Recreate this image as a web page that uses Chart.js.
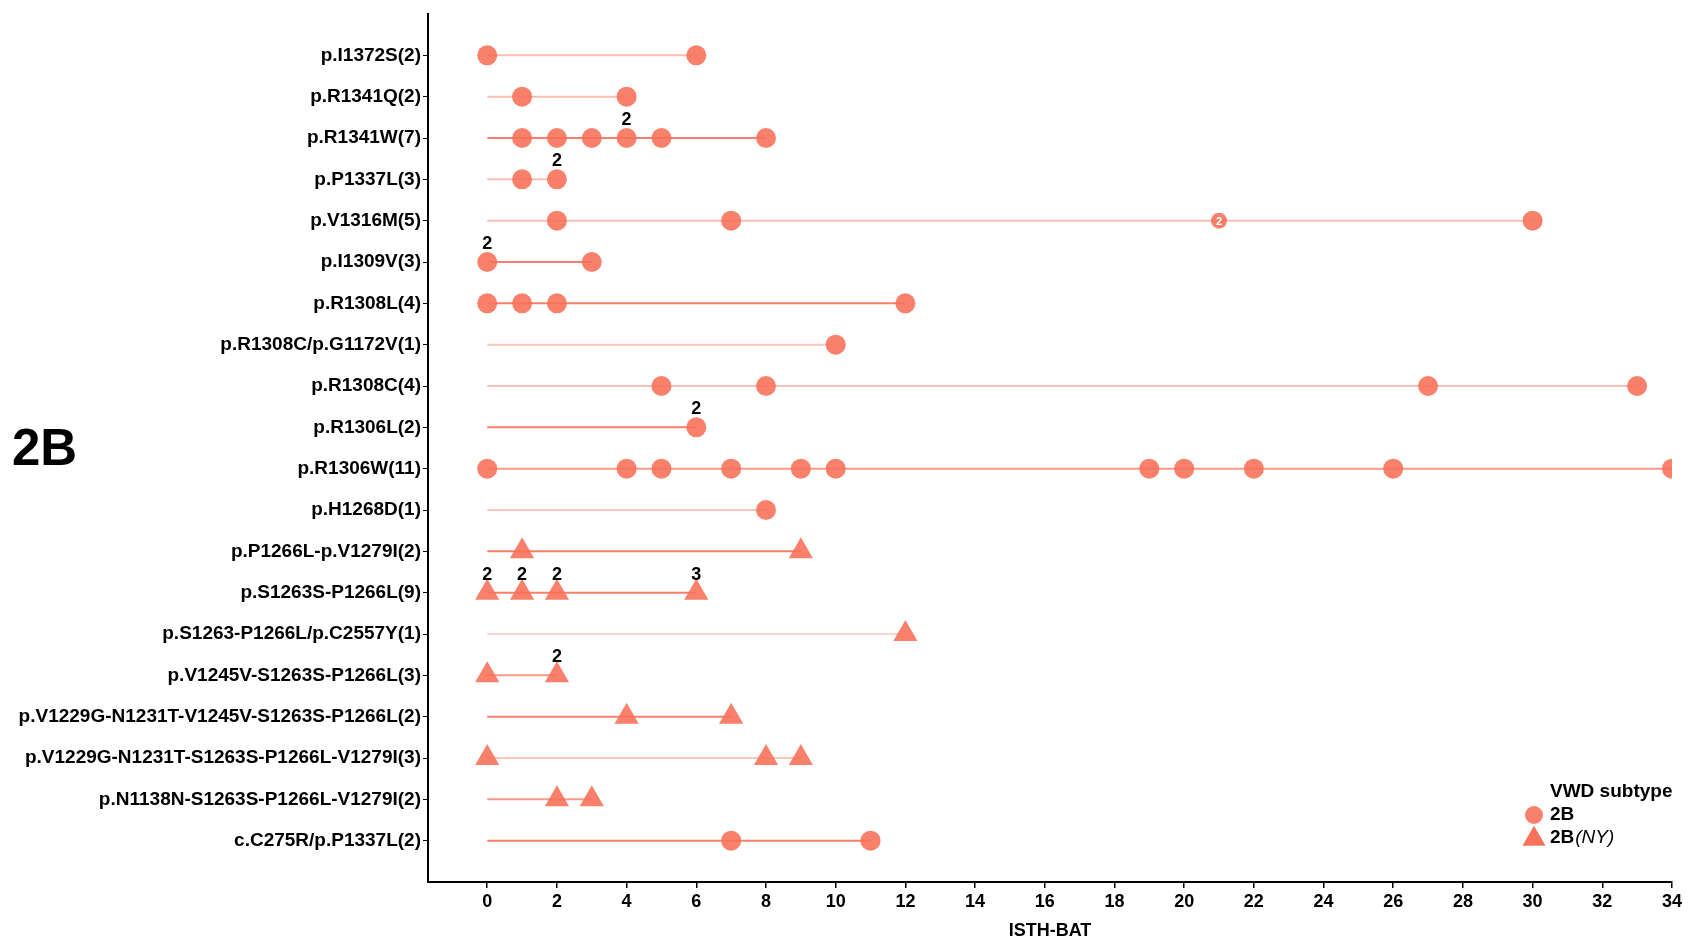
<!DOCTYPE html>
<html lang="en">
<head>
  <meta charset="UTF-8" />
  <title>ISTH-BAT by variant, VWD 2B</title>
  <script src="https://cdn.jsdelivr.net/npm/chart.js"></script>
  <style>
    html, body { margin: 0; padding: 0; background: #fff; }
    #wrap { position: relative; width: 1693px; height: 942px; }
  </style>
</head>
<body>
  <div id="wrap"><canvas id="batChart" width="1693" height="942"></canvas></div>

  <script>
    // variants, top to bottom
    const variants = [
      'p.I1372S(2)', 'p.R1341Q(2)', 'p.R1341W(7)', 'p.P1337L(3)', 'p.V1316M(5)',
      'p.I1309V(3)', 'p.R1308L(4)', 'p.R1308C/p.G1172V(1)', 'p.R1308C(4)', 'p.R1306L(2)',
      'p.R1306W(11)', 'p.H1268D(1)', 'p.P1266L-p.V1279I(2)', 'p.S1263S-P1266L(9)',
      'p.S1263-P1266L/p.C2557Y(1)', 'p.V1245V-S1263S-P1266L(3)',
      'p.V1229G-N1231T-V1245V-S1263S-P1266L(2)', 'p.V1229G-N1231T-S1263S-P1266L-V1279I(3)',
      'p.N1138N-S1263S-P1266L-V1279I(2)', 'c.C275R/p.P1337L(2)'
    ];

    // VWD subtype of each row
    const subtypes = [
      '2B', '2B', '2B', '2B', '2B', '2B', '2B', '2B', '2B', '2B', '2B', '2B',
      '2B(NY)', '2B(NY)', '2B(NY)', '2B(NY)', '2B(NY)', '2B(NY)', '2B(NY)', '2B'
    ];

    // ISTH-BAT score of every patient (repeats = several patients with same score)
    const scores = [
      [0, 6],
      [1, 4],
      [1, 2, 3, 4, 4, 5, 8],
      [1, 2, 2],
      [2, 7, 21, 21, 30],
      [0, 0, 3],
      [0, 1, 2, 12],
      [10],
      [5, 8, 27, 33],
      [6, 6],
      [0, 4, 5, 7, 9, 10, 19, 20, 22, 26, 34],
      [8],
      [1, 9],
      [0, 0, 1, 1, 2, 2, 6, 6, 6],
      [12],
      [0, 2, 2],
      [4, 7],
      [0, 8, 9],
      [2, 3],
      [7, 11]
    ];

    // points whose count is written inside the marker instead of above it
    const insideCount = [{ row: 4, score: 21 }];

    const xTicks = [0, 2, 4, 6, 8, 10, 12, 14, 16, 18, 20, 22, 24, 26, 28, 30, 32, 34];

    // line shade per row (style only)
    const lineColors = [
      '#f9bfb3', '#f9bfb3', '#f6806b', '#f9bfb3', '#f9bfb3',
      '#f6806b', '#f6806b', '#f9c6bb', '#f9bfb3', '#f6806b',
      '#f79a88', '#f9c6bb', '#f6806b', '#f6806b', '#fbd6ce',
      '#f79a88', '#f6806b', '#f9c6bb', '#f79a88', '#f6806b'
    ];

    const markerFill = 'rgba(248, 112, 88, 0.88)';
    const narrow = "'Liberation Sans Narrow', 'Arial Narrow', 'Liberation Sans', Arial, sans-serif";
    const regular = "'Liberation Sans', Arial, sans-serif";

    function groupScores(list) {
      const out = [];
      list.forEach(v => {
        const g = out.find(o => o.x === v);
        if (g) g.n++; else out.push({ x: v, n: 1 });
      });
      return out;
    }

    function isInside(row, x) {
      return insideCount.some(p => p.row === row && p.score === x);
    }

    const datasets = [];

    // the 0..max line of each row
    scores.forEach((list, i) => {
      datasets.push({
        data: [{ x: 0, y: i }, { x: Math.max(...list), y: i }],
        showLine: true,
        pointRadius: 0,
        borderColor: lineColors[i],
        borderWidth: 2,
        order: 2
      });
    });

    const circlePts = [], trianglePts = [], badgePts = [];
    scores.forEach((list, i) => {
      groupScores(list).forEach(g => {
        const p = { x: g.x, y: i, n: g.n };
        if (isInside(i, g.x)) badgePts.push(p);
        else if (subtypes[i] === '2B') circlePts.push(p);
        else trianglePts.push(p);
      });
    });

    datasets.push({
      label: '2B', data: circlePts, pointStyle: 'circle', pointRadius: 10,
      backgroundColor: markerFill, borderColor: markerFill, borderWidth: 0, order: 1
    });
    datasets.push({
      label: '2B(NY)', data: trianglePts, pointStyle: 'triangle', pointRadius: 14,
      backgroundColor: markerFill, borderColor: markerFill, borderWidth: 0, order: 1
    });
    datasets.push({
      label: 'badge', data: badgePts, pointStyle: 'circle', pointRadius: 8,
      backgroundColor: markerFill, borderColor: markerFill, borderWidth: 0, order: 1
    });

    // count numbers + legend + big panel label
    const annotations = {
      id: 'annotations',
      afterDatasetsDraw(chart) {
        const ctx = chart.ctx;
        const xs = chart.scales.x, ys = chart.scales.y;
        ctx.save();
        ctx.textAlign = 'center';
        ctx.textBaseline = 'middle';

        [circlePts, trianglePts].forEach(list => {
          list.forEach(p => {
            if (p.n < 2) return;
            ctx.fillStyle = '#000';
            ctx.font = 'bold 18px ' + narrow;
            ctx.fillText(String(p.n), xs.getPixelForValue(p.x), ys.getPixelForValue(p.y) - 18);
          });
        });
        badgePts.forEach(p => {
          ctx.fillStyle = '#fff';
          ctx.font = 'bold 11px ' + regular;
          ctx.fillText(String(p.n), xs.getPixelForValue(p.x), ys.getPixelForValue(p.y) + 1);
        });

        // panel label
        ctx.textAlign = 'left';
        ctx.fillStyle = '#000';
        ctx.font = 'bold 51px ' + regular;
        ctx.fillText('2B', 12, 451);

        // legend
        ctx.font = 'bold 19px ' + regular;
        ctx.fillText('VWD subtype', 1550, 792);
        ctx.fillText('2B', 1550, 815);
        ctx.fillText('2B', 1550, 838);
        const w2b = ctx.measureText('2B').width;
        ctx.font = 'italic 19px ' + regular;
        ctx.fillText('(NY)', 1550 + w2b + 1, 838);

        ctx.fillStyle = markerFill;
        ctx.beginPath();
        ctx.arc(1534, 815, 9, 0, Math.PI * 2);
        ctx.fill();
        Chart.helpers.drawPoint(ctx, { pointStyle: 'triangle', radius: 13, borderWidth: 0 }, 1534, 839);
        ctx.fill();
        ctx.restore();
      }
    };

    const ctx = document.getElementById('batChart').getContext('2d');
    new Chart(ctx, {
      type: 'scatter',
      data: { datasets: datasets },
      plugins: [annotations],
      options: {
        responsive: false,
        animation: false,
        events: [],
        layout: { padding: { top: 13, right: 21, bottom: 0, left: 0 } },
        plugins: { legend: { display: false }, tooltip: { enabled: false } },
        scales: {
          x: {
            type: 'linear',
            min: -1.7,
            max: 34,
            afterBuildTicks: scale => {
              scale.ticks = xTicks.map(v => ({ value: v }));
            },
            afterFit: scale => { scale.height = 60; },
            ticks: {
              autoSkip: false,
              maxRotation: 0,
              color: '#000',
              padding: 3,
              font: { family: narrow, size: 18, weight: 'bold' }
            },
            grid: { drawOnChartArea: false, drawTicks: true, tickLength: 6, color: '#000', lineWidth: 1.5 },
            border: { color: '#000', width: 2 },
            title: {
              display: true,
              text: 'ISTH-BAT',
              color: '#000',
              padding: { top: 6, bottom: 0 },
              font: { family: narrow, size: 18, weight: 'bold' }
            }
          },
          y: {
            type: 'linear',
            min: -1,
            max: 20,
            reverse: true,
            afterBuildTicks: scale => {
              scale.ticks = variants.map((v, i) => ({ value: i }));
            },
            afterFit: scale => { scale.width = 428; },
            ticks: {
              autoSkip: false,
              color: '#000',
              padding: 2,
              font: { family: narrow, size: 19, weight: 'bold' },
              callback: v => variants[v] || ''
            },
            grid: { drawOnChartArea: false, drawTicks: true, tickLength: 5, color: '#000', lineWidth: 1 },
            border: { color: '#000', width: 2 }
          }
        }
      }
    });
  </script>
</body>
</html>
